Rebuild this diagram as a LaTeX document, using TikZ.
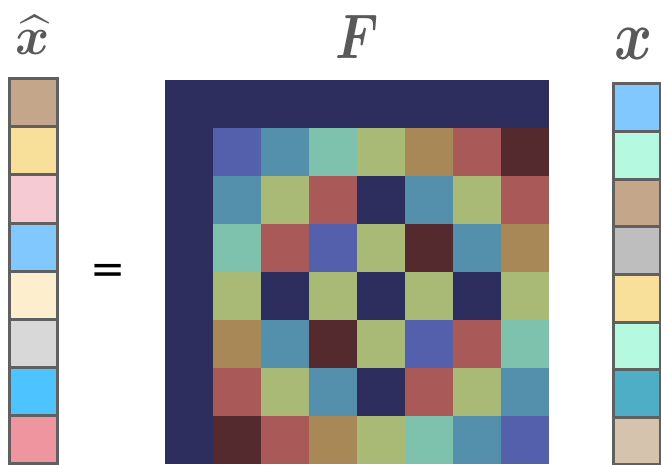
\documentclass[tikz,border=0pt]{standalone}
\usepackage{amsmath,amssymb,bm,graphicx}
\usepackage{fontspec}
\newfontfamily\eqfont{DejaVu Sans}
\definecolor{cB}{HTML}{5560AD}
\definecolor{cT}{HTML}{548FAB}
\definecolor{cM}{HTML}{7EC2AD}
\definecolor{cO}{HTML}{A9B976}
\definecolor{cW}{HTML}{A98858}
\definecolor{cR}{HTML}{A95A58}
\definecolor{cD}{HTML}{552A2E}
\definecolor{cN}{HTML}{2E2E5E}
\definecolor{vline}{HTML}{606060}
\definecolor{lbl}{HTML}{595959}
\definecolor{v1}{HTML}{C4A78A}
\definecolor{v2}{HTML}{F8E09A}
\definecolor{v3}{HTML}{F5CAD3}
\definecolor{v4}{HTML}{80C8FF}
\definecolor{v5}{HTML}{FDEFCE}
\definecolor{v6}{HTML}{D8D8D8}
\definecolor{v7}{HTML}{4DC3FF}
\definecolor{v8}{HTML}{EE959F}
\definecolor{w1}{HTML}{80C8FF}
\definecolor{w2}{HTML}{B5FAE0}
\definecolor{w3}{HTML}{C4A78A}
\definecolor{w4}{HTML}{BEBEBE}
\definecolor{w5}{HTML}{F8E09A}
\definecolor{w6}{HTML}{B5FAE0}
\definecolor{w7}{HTML}{4DAEC6}
\definecolor{w8}{HTML}{D6C3AE}
\tikzset{
  cell/.style={rectangle, minimum size=48pt, inner sep=0pt, outer sep=0pt},
  vcell/.style={rectangle, draw=vline, line width=3pt, minimum width=48pt, inner sep=0pt, outer sep=0pt},
  lab/.style={text=lbl, inner sep=0pt, anchor=base}
}
\begin{document}
\begin{tikzpicture}[x=1pt,y=-1pt]
\useasboundingbox (0,0) rectangle (661,465);
% labels
\node[lab] (xhat) at (33,55) {\scalebox{5.2}[5.4]{$\bm{\widehat{x}}$}};
\node[lab] (F) at (357,59) {\scalebox{5.1}[6.3]{$\bm{F}$}};
\node[lab] (x) at (634,60) {\scalebox{5.8}[7.0]{$\bm{x}$}};
% equals
\node[inner sep=0pt] (eq) at (108,274) {\eqfont\fontsize{42}{42}\selectfont =};
% left vector
\foreach \k in {1,...,8}{
  \node[vcell, fill=v\k, minimum height=48pt] (l\k) at (33.5, {79+48*(\k-1)+24}) {};
}
% matrix background
\node[cell, fill=cN, minimum size=384pt, anchor=north west] (Fbg) at (165,80) {};
\foreach \row [count=\i] in {{B,T,M,O,W,R,D},{T,O,R,N,T,O,R},{M,R,B,O,D,T,W},{O,N,O,N,O,N,O},{W,T,D,O,B,R,M},{R,O,T,N,R,O,T},{D,R,W,O,M,T,B}}{
  \foreach \c [count=\j] in \row {
    \node[cell, fill=c\c] (m-\i-\j) at ({213+48*(\j-1)+24}, {128+48*(\i-1)+24}) {};
  }
}
% right vector
\foreach \k in {1,...,8}{
  \node[vcell, fill=w\k, minimum height=47.6pt, minimum width=47pt] (r\k) at (637, {84+47.6*(\k-1)+23.8}) {};
}
\end{tikzpicture}
\end{document}
